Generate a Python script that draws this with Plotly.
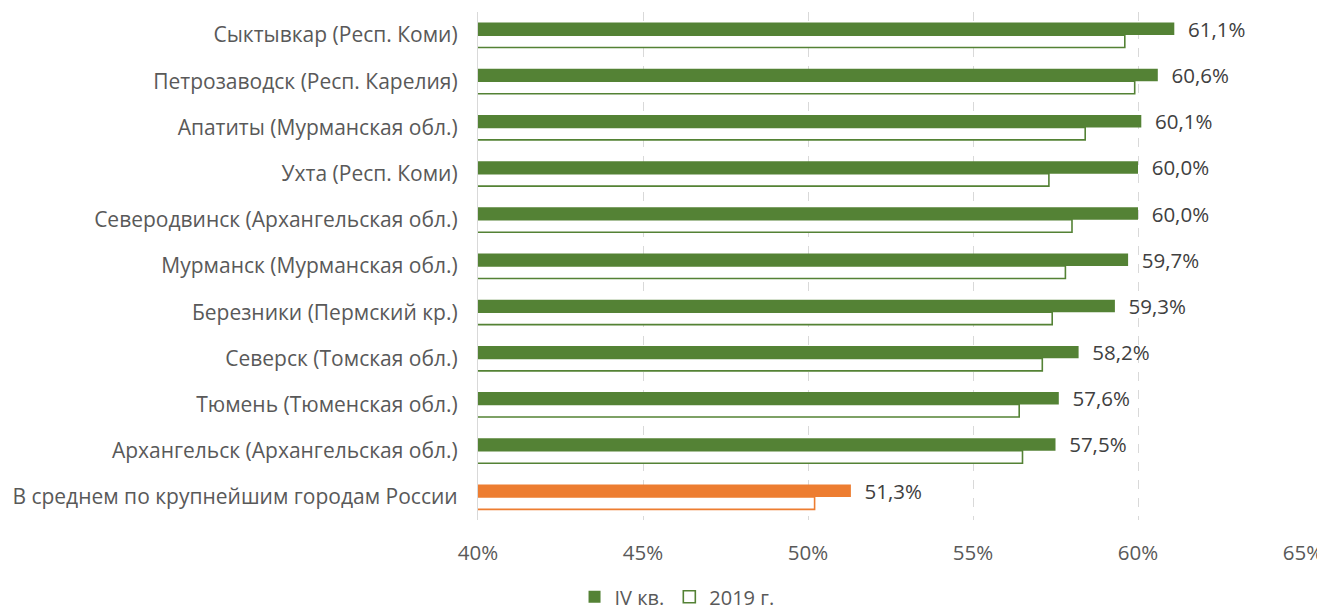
import plotly.graph_objects as go

categories = [
    "Сыктывкар (Респ. Коми)",
    "Петрозаводск (Респ. Карелия)",
    "Апатиты (Мурманская обл.)",
    "Ухта (Респ. Коми)",
    "Северодвинск (Архангельская обл.)",
    "Мурманск (Мурманская обл.)",
    "Березники (Пермский кр.)",
    "Северск (Томская обл.)",
    "Тюмень (Тюменская обл.)",
    "Архангельск (Архангельская обл.)",
    "В среднем по крупнейшим городам России",
]
q4_values = [61.1, 60.6, 60.1, 60.0, 60.0, 59.7, 59.3, 58.2, 57.6, 57.5, 51.3]
y2019_values = [59.6, 59.9, 58.4, 57.3, 58.0, 57.8, 57.4, 57.1, 56.4, 56.5, 50.2]
tick_vals = [40, 45, 50, 55, 60, 65]
tick_text = ["40%", "45%", "50%", "55%", "60%", "65%"]

GREEN = "#548235"
ORANGE = "#ED7D31"
colors = [GREEN] * (len(categories) - 1) + [ORANGE]
labels = ["  " + f"{v:.1f}%".replace(".", ",") for v in q4_values]

FONT = "Open Sans"
TXT = "#595959"
FS = 20.5

fig = go.Figure()
fig.add_trace(go.Bar(
    name="IV кв.", orientation="h", y=categories, x=q4_values,
    marker=dict(color=colors, line=dict(width=0)),
    text=labels, textposition="outside", cliponaxis=False, constraintext="none",
    textfont=dict(family=FONT, size=FS, color="#404040"),
))
fig.add_trace(go.Bar(
    name="2019 г.", orientation="h", y=categories, x=y2019_values,
    marker=dict(color="white", line=dict(color=colors, width=1.6)),
))

# page body has an 8px margin: figure is sized/positioned to compensate
fig.update_layout(
    width=1317, height=607,
    barmode="group", bargap=0.46, bargroupgap=0,
    plot_bgcolor="white", paper_bgcolor="white",
    margin=dict(l=470, r=22, t=4, b=95, autoexpand=False),
    font=dict(family=FONT, size=FS, color=TXT),
    showlegend=True,
    legend=dict(orientation="h", xref="container", yref="container",
                x=0.508, y=0.03, xanchor="center", yanchor="middle",
                font=dict(family=FONT, size=20, color=TXT),
                itemwidth=30, traceorder="normal"),
    xaxis=dict(range=[40, 65], tickvals=tick_vals, ticktext=tick_text,
               showgrid=True, gridcolor="#D9D9D9", griddash="dash", gridwidth=1.3,
               zeroline=False, showline=False, ticks="",
               tickfont=dict(family=FONT, size=FS, color=TXT),
               ticklabelstandoff=18),
    yaxis=dict(autorange="reversed", showline=True, linecolor="#D9D9D9", linewidth=1.3,
               ticks="", showgrid=False, automargin=False,
               tickfont=dict(family=FONT, size=21, color=TXT),
               ticklabelstandoff=15),
)

fig.write_html("out.html")
